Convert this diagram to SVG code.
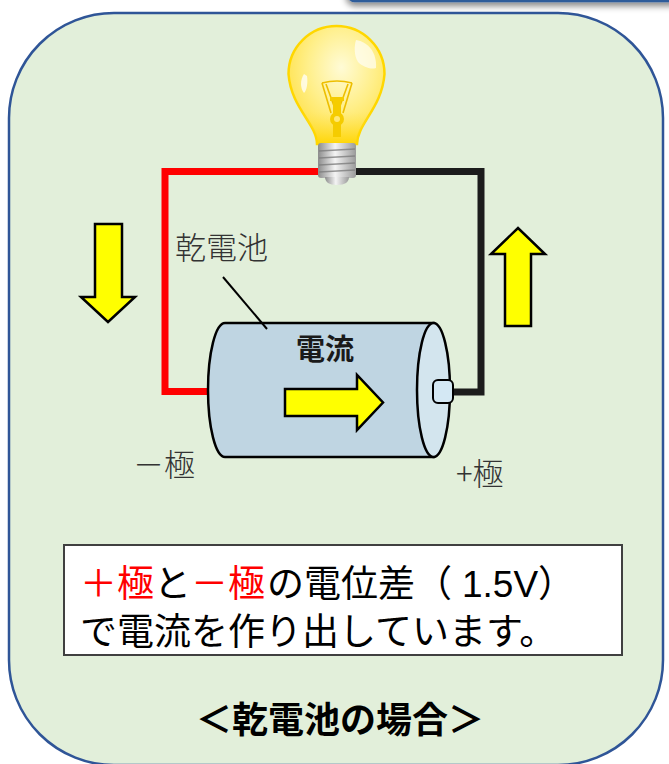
<svg xmlns="http://www.w3.org/2000/svg" width="669" height="764" viewBox="0 0 669 764">
  <style>
    .jp { font-family: "Noto Sans CJK JP", "Noto Sans", sans-serif; }
    .label { fill: #333333; font-size: 31px; font-weight: 300; }
    .note { font-size: 37px; fill: #000000; }
    .red { fill: #FF0000; }
    .flow { fill: #FFFF00; stroke: #000000; stroke-width: 2.5; stroke-linejoin: miter; }
    .wire { fill: none; stroke-width: 7; stroke-linejoin: miter; stroke-linecap: butt; }
  </style>
  <defs>
    <filter id="softShadow" x="-10%" y="-50%" width="130%" height="250%">
      <feDropShadow dx="0" dy="4" stdDeviation="3" flood-color="#000000" flood-opacity="0.45"/>
    </filter>
    <radialGradient id="globeFill" cx="0.55" cy="0.35" r="0.7">
      <stop offset="0" stop-color="#FFFBD6"/>
      <stop offset="0.5" stop-color="#FFEF8A"/>
      <stop offset="1" stop-color="#FFDE3A"/>
    </radialGradient>
    <linearGradient id="neckGlow" x1="0" y1="0" x2="0" y2="1">
      <stop offset="0" stop-color="#FFE34D" stop-opacity="0"/>
      <stop offset="1" stop-color="#FFD500" stop-opacity="0.9"/>
    </linearGradient>
    <linearGradient id="metal" x1="0" y1="0" x2="1" y2="0">
      <stop offset="0" stop-color="#8C8C8C"/>
      <stop offset="0.45" stop-color="#F4F4F4"/>
      <stop offset="1" stop-color="#9A9A9A"/>
    </linearGradient>
  </defs>

  <!-- panel peeking in at the top edge -->
  <g id="upper-panel">
    <rect x="347" y="-60" width="340" height="61" rx="8" fill="#FFFFFF" stroke="#2E5C9A" stroke-width="2.5" filter="url(#softShadow)"/>
  </g>

  <!-- main rounded frame -->
  <g id="frame">
    <rect x="9" y="13" width="654" height="752" rx="105" ry="105" fill="#E2EFDA" stroke="#2F5597" stroke-width="2.5"/>
  </g>

  <!-- circuit wires -->
  <g id="connectors">
    <path class="wire" stroke="#FF0000" d="M324,171.5 H165 V391.5 H210"/>
    <path class="wire" stroke="#1C1C1C" d="M350,171.5 H481 V392 H452"/>
  </g>

  <!-- light bulb -->
  <g id="bulb">
    <path d="M317,144 C317,124 291,108 288.5,74 A48,48 0 1 1 384.5,74 C382,108 357,124 357,144 Z" fill="url(#globeFill)" stroke="#FFD700" stroke-width="2.5"/>
    <path d="M300,112 C310,125 318,132 318,144 L356,144 C356,132 364,125 374,112 Z" fill="url(#neckGlow)"/>
    <path d="M356,40 C368,42 377,52 376,68 C370,70 362,66 358,62 C354,56 354,46 356,40 Z" fill="#FFFFFF" opacity="0.65"/>
    <path d="M304,74 C300,80 300,88 304,93 C307,90 308,82 307,76 Z" fill="#FFFFFF" opacity="0.75"/>
    <!-- filament -->
    <g stroke="#EDBE00" stroke-width="1.6" fill="none">
      <path d="M322,83 Q337,79 352,83"/>
      <path d="M322,83 L331,113"/>
      <path d="M352,83 L343,113"/>
      <path d="M326,84 L334,106"/>
      <path d="M348,84 L340,106"/>
    </g>
    <rect x="333" y="97" width="8" height="40" fill="#F5CC00"/>
    <rect x="330" y="97" width="14" height="4" fill="#F5CC00"/>
    <circle cx="337" cy="119" r="7" fill="#F5CC00"/>
    <circle cx="337" cy="119" r="3" fill="#FFE873"/>
    <!-- screw base -->
    <rect x="318" y="143" width="38" height="35" rx="3" fill="url(#metal)"/>
    <g stroke="#7E7E7E" stroke-width="1.6" opacity="0.8">
      <line x1="319" y1="151" x2="355" y2="149"/>
      <line x1="319" y1="158" x2="355" y2="156"/>
      <line x1="319" y1="165" x2="355" y2="163"/>
      <line x1="319" y1="172" x2="355" y2="170"/>
    </g>
    <path d="M325,177 H349 C349,182 345,185 337,185 C329,185 325,182 325,177 Z" fill="url(#metal)"/>
  </g>

  <!-- dry cell -->
  <g id="battery">
    <path d="M433.5,323 H225 A17,67 0 0 0 225,457 H433.5 Z" fill="#BFD5E2" stroke="#000000" stroke-width="2.5"/>
    <ellipse cx="433.5" cy="390" rx="16.5" ry="67" fill="#D3E5EE" stroke="#000000" stroke-width="2.5"/>
    <rect x="433" y="380" width="20" height="23" rx="5" fill="#D4E8F4" stroke="#000000" stroke-width="2"/>
    <text class="jp" x="325" y="360" font-size="29" font-weight="700" text-anchor="middle" fill="#1A1A1A">電流</text>
    <polygon class="flow" points="285,389 357,389 357,375 383,402.5 357,430 357,416 285,416"/>
  </g>

  <!-- current direction arrows -->
  <g id="arrow-down">
    <polygon class="flow" points="95,224 122,224 122,297 135,297 108,322 81,297 95,297"/>
  </g>
  <g id="arrow-up">
    <polygon class="flow" points="505,326 531,326 531,254 545,254 518,228 491,254 505,254"/>
  </g>

  <!-- labels -->
  <g id="label-cell">
    <text class="jp label" x="175" y="259">乾電池</text>
    <line x1="223" y1="277" x2="267" y2="329" stroke="#000000" stroke-width="2"/>
  </g>
  <g id="label-minus">
    <text class="jp label" x="133" y="476" font-size="25">－</text>
    <text class="jp label" x="164" y="476">極</text>
  </g>
  <g id="label-plus">
    <text class="jp label" x="456" y="485">+極</text>
  </g>

  <!-- explanation box; the first line is set in pieces so the red parts and the Latin figures sit at fixed spots -->
  <g id="note">
    <rect x="64" y="545" width="558" height="110" fill="#FFFFFF" stroke="#404040" stroke-width="2"/>
    <text class="jp note red" x="80" y="597">＋極</text>
    <text class="jp note" x="154" y="597">と</text>
    <text class="jp note red" x="191" y="597">－極</text>
    <text class="jp note" x="267" y="597">の電位差（</text>
    <text class="note" x="462" y="597" font-family="'Liberation Sans', sans-serif">1.5V</text>
    <text class="jp note" x="538" y="597">）</text>
    <text class="jp note" x="80" y="645">で電流を作り出しています。</text>
  </g>

  <!-- caption -->
  <g id="caption">
    <text class="jp" x="340" y="733" font-size="36" font-weight="700" text-anchor="middle" fill="#000000">＜乾電池の場合＞</text>
  </g>
</svg>
